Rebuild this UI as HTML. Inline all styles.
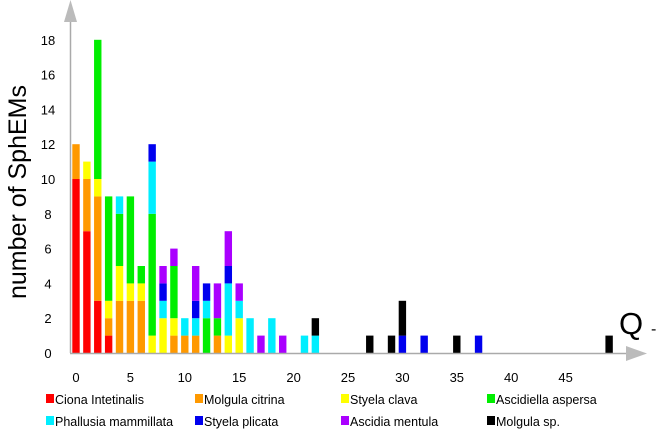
<!DOCTYPE html>
<html><head><meta charset="utf-8"><style>
html,body{margin:0;padding:0;background:#fff;}
svg{display:block;font-family:"Liberation Sans",sans-serif;}
</style></head><body>
<svg id="chart" width="661" height="434" viewBox="0 0 661 434" xmlns="http://www.w3.org/2000/svg">
<g id="bars"></g>
<g id="axes">
<line x1="70.5" y1="20" x2="70.5" y2="353" stroke="#aaa" stroke-width="1.5"/>
<polygon points="64,22 77,22 70.5,0" fill="#bbb"/>
<line x1="70" y1="353.5" x2="628" y2="353.5" stroke="#aaa" stroke-width="1.5"/>
<polygon points="626,346 626,361 647,353.5" fill="#bbb"/>
</g>
<g id="yticks"></g>
<g id="xticks"></g>
<text transform="translate(26,192) rotate(-90)" text-anchor="middle" font-size="25" fill="#000">number of SphEMs</text>
<text x="619" y="334" font-size="31" fill="#000">Q</text>
<text x="651" y="334" font-size="16" fill="#000">-</text>
<g id="legend"></g>
</svg>
<script>
const categories = [0,1,2,3,4,5,6,7,8,9,10,11,12,13,14,15,16,17,18,19,21,22,27,29,30,32,35,37,49];
const seriesNames = ["Ciona Intetinalis","Molgula citrina","Styela clava","Ascidiella aspersa","Phallusia mammillata","Styela plicata","Ascidia mentula","Molgula sp."];
const seriesColors = ["#ff0000","#ff9900","#ffff00","#00ee00","#00eeff","#0000ee","#aa00ff","#000000"];
const ciona     = [10,7,3,1,0,0,0,0,0,0,0,0,0,0,0,0,0,0,0,0,0,0,0,0,0,0,0,0,0];
const molgulaC  = [2,3,6,1,3,3,3,0,0,1,1,1,0,1,0,0,0,0,0,0,0,0,0,0,0,0,0,0,0];
const styelaC   = [0,1,1,1,2,1,1,1,2,1,0,0,0,0,1,2,0,0,0,0,0,0,0,0,0,0,0,0,0];
const ascidiella= [0,0,8,6,3,5,1,7,0,3,0,0,2,1,0,0,0,0,0,0,0,0,0,0,0,0,0,0,0];
const phallusia = [0,0,0,0,1,0,0,3,1,0,1,1,1,0,3,1,2,0,2,0,1,1,0,0,0,0,0,0,0];
const styelaP   = [0,0,0,0,0,0,0,1,1,0,0,1,1,0,1,0,0,0,0,0,0,0,0,0,1,1,0,1,0];
const ascidia   = [0,0,0,0,0,0,0,0,1,1,0,2,0,2,2,1,0,1,0,1,0,0,0,0,0,0,0,0,0];
const molgulaSp = [0,0,0,0,0,0,0,0,0,0,0,0,0,0,0,0,0,0,0,0,0,1,1,1,2,0,1,0,1];
const series = [ciona,molgulaC,styelaC,ascidiella,phallusia,styelaP,ascidia,molgulaSp];
const yTicks = [0,2,4,6,8,10,12,14,16,18];
const xTicks = [0,5,10,15,20,25,30,35,40,45];

const NS="http://www.w3.org/2000/svg";
function xScale(v){return 76 + v*10.88;}
function yScale(v){return 353 - v*17.4;}
const barW=7.4;
const gb=document.getElementById('bars');
categories.forEach((c,i)=>{
  let acc=0;
  series.forEach((s,k)=>{
    const v=s[i]; if(!v) return;
    const r=document.createElementNS(NS,'rect');
    
    
    r.setAttribute('x',xScale(c)-barW/2);
    r.setAttribute('y',yScale(acc+v));
    r.setAttribute('width',barW);
    r.setAttribute('height',yScale(acc)-yScale(acc+v));
    r.setAttribute('fill',seriesColors[k]);
    gb.appendChild(r);
    acc+=v;
  });
});
const gy=document.getElementById('yticks');
yTicks.forEach(t=>{
  const e=document.createElementNS(NS,'text');
  
  
  e.setAttribute('x',48);e.setAttribute('y',yScale(t)+5);
  e.setAttribute('text-anchor','middle');e.setAttribute('font-size','13');
  e.textContent=t;gy.appendChild(e);
});
const gx=document.getElementById('xticks');
xTicks.forEach(t=>{
  const e=document.createElementNS(NS,'text');
  
  
  e.setAttribute('x',xScale(t));e.setAttribute('y',382);
  e.setAttribute('text-anchor','middle');e.setAttribute('font-size','13');
  e.textContent=t;gx.appendChild(e);
});
const gl=document.getElementById('legend');
const legX=[46,195,341,487];
seriesNames.forEach((n,k)=>{
  const x=legX[k%4], y=k<4?404:426;
  const g=document.createElementNS(NS,'g');
  
  
  const r=document.createElementNS(NS,'rect');
  
  
  r.setAttribute('x',x);r.setAttribute('y',y-10);r.setAttribute('width',8);r.setAttribute('height',9);
  r.setAttribute('fill',seriesColors[k]);g.appendChild(r);
  const t=document.createElementNS(NS,'text');
  
  
  t.setAttribute('x',x+9);t.setAttribute('y',y);t.setAttribute('font-size','12.5');
  t.textContent=n;g.appendChild(t);
  gl.appendChild(g);
});
</script>
</body></html>
